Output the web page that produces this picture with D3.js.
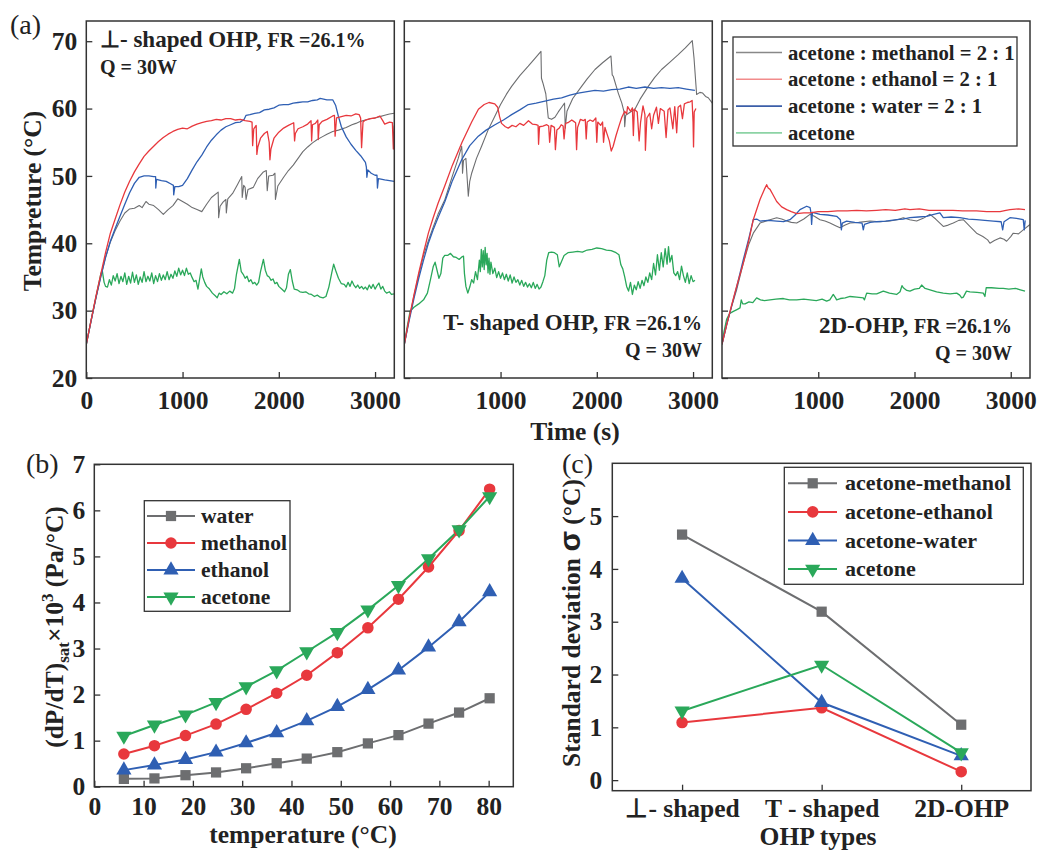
<!DOCTYPE html>
<html><head><meta charset="utf-8">
<script src="https://cdn.jsdelivr.net/npm/d3@7"></script>
<style>
body{margin:0;background:#fff;}
svg{font-family:"Liberation Serif","Times New Roman",serif;}
</style></head>
<body><svg id="c" width="1037" height="850"></svg>
<script>
// ---------- Panel (a) data: [time (s), temperature (°C)] ----------
const perpMethanol=[[0,25],[50,28.5],[100,31.9],[150,35],[200,37.9],[250,40.2],[300,41.9],[350,43.3],[400,44.5],[450,45.1],[500,45.2],[550,45.6],[580,45.3],[620,46.2],[650,45.8],[700,45.6],[750,45],[800,44.3],[850,45],[900,45.6],[950,46.6],[1000,46.2],[1050,45.8],[1100,45.3],[1150,45],[1200,44.7],[1250,45.8],[1300,46.8],[1370,47.6],[1375,43.8],[1390,45.5],[1420,46.1],[1450,46.5],[1455,44.5],[1470,46.6],[1520,47.4],[1570,48.7],[1615,49.9],[1620,46.8],[1635,48.6],[1650,48.3],[1660,46.5],[1680,48],[1735,48.3],[1780,49.6],[1840,50.6],[1870,50.8],[1880,47.8],[1895,50],[1940,50.1],[1960,50.4],[1965,46.5],[1990,48.5],[2050,49.8],[2100,50.8],[2150,51.6],[2200,52.6],[2250,53.6],[2300,54.3],[2350,54.9],[2400,55.4],[2450,55.8],[2500,56.2],[2560,56.6],[2620,56.8],[2700,57.2],[2760,57.6],[2800,57.8],[2850,58.1],[2900,58.3],[2950,58.5],[3000,58.6],[3050,58.8],[3100,59],[3150,59.2],[3200,59.3]];
const perpEthanol=[[0,25],[50,28.6],[100,32.1],[150,35.4],[200,38.6],[250,41.5],[300,43.6],[350,45.7],[400,47.6],[450,49.2],[500,50.6],[550,51.8],[600,52.9],[650,53.7],[700,54.4],[750,55.1],[800,55.7],[850,56.2],[900,56.6],[950,56.9],[1000,57.1],[1050,57],[1100,57.4],[1150,57.7],[1200,57.9],[1250,58.1],[1300,58.2],[1350,58.4],[1400,58.3],[1450,58.5],[1500,58.5],[1550,58.3],[1600,58.4],[1650,58.2],[1700,58.1],[1722,58],[1728,54.5],[1740,57],[1765,57.5],[1772,53.2],[1782,54.3],[1810,55.6],[1850,56.3],[1880,56.6],[1900,55],[1908,52.4],[1918,54],[1950,55.6],[2000,56.5],[2050,57.1],[2100,57.5],[2155,57.9],[2164,55.2],[2172,56.3],[2200,57],[2250,57.3],[2300,57.7],[2335,58.2],[2341,55.2],[2350,57.6],[2380,57.8],[2405,58.3],[2410,55.4],[2420,57.6],[2450,58.1],[2500,58.4],[2560,58.9],[2578,59],[2585,55.9],[2600,58.6],[2650,58.8],[2700,59],[2750,58.9],[2800,59.2],[2835,59.1],[2850,58.6],[2860,54.2],[2875,58],[2900,58.3],[2950,58.5],[3000,58.6],[3050,58.9],[3080,58.2],[3100,57.7],[3150,58],[3180,57.9],[3190,54],[3200,57.5]];
const perpWater=[[0,25],[50,28.5],[100,31.9],[150,35],[200,37.9],[250,40.3],[300,42.2],[350,44],[400,45.8],[450,47.5],[500,48.9],[550,49.8],[600,50],[650,50],[700,49.9],[720,49.9],[722,48.2],[730,49.5],[780,49.3],[830,49.2],[880,48.8],[905,48.6],[908,47.2],[920,48.4],[960,48.4],[1000,48.6],[1050,49.6],[1100,50.9],[1150,52.1],[1200,53.1],[1250,54.3],[1300,55.3],[1350,56.1],[1400,56.8],[1450,57.3],[1500,57.6],[1550,57.9],[1600,58],[1640,58.4],[1660,59],[1700,59.1],[1750,59.3],[1800,59.4],[1850,59.8],[1900,59.9],[1950,60.1],[2000,60.5],[2050,60.6],[2100,60.6],[2150,60.8],[2200,60.9],[2250,61],[2300,61],[2350,61.2],[2400,61.3],[2430,61.5],[2500,61.3],[2560,61.3],[2590,60.5],[2620,58.8],[2650,57.3],[2700,55.8],[2750,54.7],[2800,53.8],[2850,53],[2900,52],[2910,51.3],[2915,49.8],[2925,50.9],[2960,50.4],[3000,50.1],[3020,50.1],[3025,48.2],[3035,49.6],[3100,49.4],[3150,49.3],[3200,49.2]];
const perpAcetone=[[0,25],[50,28.6],[100,32],[150,35.4],[165,36],[185,34.2],[200,33.6],[220,33.5],[240,34.6],[260,33.8],[280,35.2],[300,34.4],[320,35.5],[340,34],[360,35.1],[380,34.3],[400,35.6],[420,33.9],[440,35.1],[460,34.1],[480,35.7],[500,34.2],[520,35.3],[540,33.9],[560,35],[580,34.2],[600,35.8],[620,34.3],[640,35.1],[660,34.4],[680,35.6],[700,34],[720,35.2],[740,34.3],[760,35.5],[780,34.5],[800,35.3],[820,34.6],[840,35.8],[860,34.6],[880,35.4],[900,34.8],[920,35.9],[940,35.1],[960,36.3],[980,35.3],[1000,36],[1020,35.2],[1040,36.3],[1060,35.4],[1080,35.6],[1100,34.9],[1120,34.3],[1140,34.5],[1160,33.2],[1175,34.5],[1195,36.2],[1210,35],[1230,34.2],[1250,33.6],[1280,33.2],[1310,32.6],[1340,32.2],[1360,31.9],[1380,32.6],[1400,32.4],[1430,32.8],[1460,32.5],[1490,32.9],[1520,32.6],[1540,33.3],[1560,35.4],[1590,37.6],[1610,35.8],[1630,35.4],[1650,34.8],[1670,35.1],[1690,34.3],[1710,34.6],[1730,34],[1750,34.2],[1770,33.8],[1790,34.2],[1810,35.8],[1840,37.6],[1860,36],[1880,35.2],[1900,35],[1920,34.5],[1940,34.7],[1960,34],[1980,34.2],[2000,33.6],[2030,33.2],[2060,32.8],[2080,33.4],[2100,35.4],[2120,36.1],[2140,34.4],[2160,33.2],[2190,33.1],[2220,32.8],[2250,32.7],[2280,32.8],[2310,32.5],[2340,32.4],[2370,32.1],[2400,32.3],[2430,32],[2460,31.9],[2490,32.1],[2520,33.5],[2550,35.6],[2570,36.9],[2590,36],[2620,34.8],[2650,34],[2680,33.9],[2700,33.5],[2720,34.2],[2740,33.6],[2760,34.4],[2780,33.8],[2800,33.4],[2820,33.8],[2840,33.3],[2860,33.6],[2880,33.2],[2900,33.5],[2920,33.1],[2940,33.8],[2960,33.3],[2980,33.9],[3000,33.2],[3020,33.7],[3040,34.1],[3060,33.2],[3080,33.6],[3100,32.9],[3120,32.6],[3150,32.8],[3170,32.4],[3200,32.5]];

const tMethanol=[[0,25],[50,28.7],[100,32.2],[150,35.3],[200,38.2],[250,40.4],[300,42.4],[350,44.3],[422,46.5],[500,50],[560,52.6],[596,54.4],[600,53.5],[605,50.4],[615,52.3],[640,52.6],[665,47],[680,49.2],[700,50.4],[750,52.6],[803,54.4],[870,56.8],[942,58.9],[1000,60.6],[1060,62.1],[1115,63.3],[1200,64.9],[1288,66.3],[1360,67.5],[1420,68.5],[1425,64.5],[1440,63.8],[1470,62.2],[1496,58.6],[1530,58.4],[1565,58.7],[1600,59.5],[1640,60.3],[1665,60.8],[1672,57.1],[1690,59.6],[1750,61.5],[1842,63.3],[1900,64.4],[1981,65.8],[2060,66.8],[2147,67.8],[2160,65],[2171,64.8],[2223,62.3],[2260,60.8],[2285,59.4],[2290,57.3],[2300,59],[2350,59.5],[2396,59.9],[2450,61.4],[2535,63.3],[2600,64.6],[2673,65.8],[2760,66.9],[2846,68],[2920,69],[2992,70.1],[3010,67.5],[3030,63.5],[3037,62.1],[3071,62.4],[3100,62.3],[3130,61.8],[3158,61.6],[3200,60.8]];
const tEthanol=[[0,25],[50,28.8],[100,32.3],[150,35.6],[200,38.6],[250,41.5],[300,43.8],[350,45.9],[420,48.5],[500,51.6],[600,55],[700,58],[770,59.9],[830,60.6],[880,60.9],[940,60.7],[970,60.2],[990,58.8],[1010,57.8],[1050,57.3],[1080,57.1],[1120,57.5],[1160,57.3],[1200,57.8],[1240,57.5],[1290,58.2],[1330,57.7],[1370,57.6],[1390,57.5],[1395,54.7],[1405,57.3],[1440,57.4],[1480,57.6],[1500,57.4],[1510,55],[1525,57.5],[1560,57.2],[1570,53.9],[1585,56.8],[1610,57.1],[1630,57.6],[1650,57.4],[1660,55.5],[1675,57.8],[1700,57.9],[1740,58.3],[1760,58.1],[1780,57.9],[1790,53.9],[1800,57.2],[1830,58.4],[1860,58.2],[1880,58.4],[1890,55.5],[1900,58],[1930,58.3],[1960,58.1],[1990,58.6],[2000,55],[2010,58],[2040,57.5],[2060,58],[2070,55],[2085,57.2],[2100,56.5],[2130,55.2],[2150,53.7],[2170,54.4],[2200,56],[2230,57.4],[2260,58.7],[2290,59.6],[2310,59.2],[2320,60.3],[2350,59.6],[2370,60.1],[2380,56],[2390,59.9],[2420,59.5],[2440,55.2],[2455,58],[2480,60.4],[2500,59.1],[2505,53.8],[2520,58.6],[2550,59.3],[2570,57],[2590,59],[2620,60.2],[2640,57.8],[2660,60],[2700,59.6],[2720,55.7],[2740,59.8],[2760,60.1],[2790,57],[2810,60.3],[2830,56.4],[2845,60.2],[2870,60.5],[2890,58.5],[2910,60.7],[2940,60.9],[2970,61],[2990,61.2],[3000,58],[3005,54.3],[3012,59.5],[3030,60]];
const tWater=[[0,25],[50,28.5],[100,31.8],[150,34.8],[200,37.5],[250,40],[300,42],[350,43.8],[422,46.2],[500,49.3],[596,52.4],[680,54.5],[769,55.9],[850,56.8],[942,57.6],[1030,58.3],[1115,59.1],[1200,59.8],[1288,60.6],[1370,60.8],[1461,61.1],[1550,61.4],[1634,61.6],[1720,62],[1807,62.3],[1900,62.5],[1981,62.7],[2070,62.6],[2154,62.8],[2240,62.9],[2327,63.2],[2410,63],[2500,63.2],[2590,63],[2673,63.1],[2760,63],[2846,63.1],[2930,62.9],[3019,62.7]];
const tAcetone=[[0,25],[30,27.6],[60,29.9],[100,30.5],[150,31],[200,31.6],[240,32.6],[270,34.5],[300,36.5],[320,37.2],[340,36],[360,34.8],[380,35.5],[400,37.8],[420,38.2],[450,38.2],[480,38.5],[510,38],[540,37.9],[570,37.6],[600,38],[615,38.1],[625,35.5],[640,33.6],[660,32.6],[680,33.5],[700,34.6],[720,34.1],[740,35.8],[760,34.6],[780,37.5],[790,35.8],[800,39.1],[810,36.5],[820,38.9],[830,36.1],[840,39.4],[850,36.8],[860,38.5],[870,35.6],[880,37.8],[890,35.4],[900,37.2],[920,35.5],[940,36.3],[960,34.9],[980,35.8],[1000,34.8],[1020,35.6],[1040,34.6],[1060,35.4],[1080,34.4],[1100,35.3],[1120,34.1],[1140,35],[1160,34.2],[1180,34.6],[1200,33.8],[1220,34.5],[1240,33.6],[1260,34.2],[1280,33.5],[1300,34],[1320,33.4],[1340,34.2],[1360,33.3],[1380,33.9],[1400,33.2],[1420,33.5],[1440,34.3],[1460,35.2],[1480,37.5],[1500,38.6],[1530,38.7],[1560,38.6],[1590,38.3],[1610,36.5],[1630,37.2],[1660,38.2],[1700,38.6],[1750,38.7],[1800,38.8],[1850,38.7],[1900,39],[1950,39.1],[2000,39.3],[2050,39.2],[2100,39],[2150,38.9],[2200,38.6],[2230,38.3],[2250,36.8],[2270,36.2],[2290,35],[2310,33.6],[2330,32.9],[2350,34.2],[2370,32.4],[2390,33.8],[2410,33.1],[2430,34.3],[2450,33.3],[2470,34.5],[2490,33.7],[2510,35],[2530,34.2],[2550,35.6],[2570,34.6],[2590,37],[2610,35.3],[2630,38.3],[2650,36],[2670,38.6],[2690,36.5],[2710,39.2],[2730,36.9],[2745,39.5],[2760,37.2],[2780,38.2],[2800,35.6],[2820,35.2],[2840,35.8],[2860,34.6],[2880,36.6],[2900,35.2],[2920,34.2],[2940,35.6],[2960,34],[2980,35.2],[3000,34.3],[3020,34.5]];

const dMethanol=[[0,25],[50,28],[100,30.6],[152,33.1],[222,37.1],[280,39.9],[325,41.5],[395,43],[499,43.5],[568,43.8],[620,43.6],[672,43.3],[720,43.1],[776,43],[850,43.6],[914,44.3],[960,44],[1018,43.5],[1070,43.3],[1122,43],[1180,42.6],[1226,42.3],[1280,42.7],[1330,43],[1420,43.1],[1537,43.3],[1640,43.2],[1745,43.3],[1820,43.5],[1884,43.8],[1950,43.5],[2022,43.3],[2090,43.7],[2161,44.3],[2220,43.6],[2299,42.5],[2350,42.7],[2403,43],[2460,43.4],[2507,43.5],[2570,42.6],[2645,41.5],[2710,41],[2760,40.5],[2784,40],[2830,40.4],[2888,40.8],[2930,40.6],[2957,40.3],[3000,41],[3026,41.5],[3080,41.4],[3130,42],[3200,42.8]];
const dEthanol=[[0,25],[50,28],[100,30.8],[152,33.6],[222,37.1],[280,40.5],[325,43.5],[395,46.5],[440,48],[464,48.7],[480,48.2],[499,48],[530,47.2],[568,46.2],[620,45.4],[672,45],[720,44.7],[776,44.4],[850,44.5],[914,44.5],[1000,44.7],[1100,44.7],[1200,44.8],[1300,44.8],[1400,44.9],[1500,44.8],[1607,44.9],[1700,45],[1800,44.9],[1900,45.1],[1953,45],[2050,45.1],[2150,44.9],[2299,44.9],[2400,44.9],[2500,44.8],[2645,44.8],[2750,44.7],[2888,44.7],[2950,44.9],[2992,45],[3080,45.1],[3148,45]];
const dWater=[[0,25],[50,28],[100,30.7],[152,33.5],[222,37.6],[280,40.8],[325,43.5],[360,43.6],[395,43.3],[480,43.4],[568,43.3],[640,43.2],[706,43.5],[760,44.2],[810,45],[880,45.5],[915,45.3],[925,44.5],[931,42.8],[940,44.6],[1018,44.3],[1100,44.2],[1191,44],[1230,43.5],[1240,42],[1250,43],[1295,43.3],[1380,43.1],[1455,43],[1468,42],[1480,42.8],[1540,43.1],[1607,43.2],[1700,43.3],[1814,43.5],[1880,43.6],[1953,43.8],[2040,43.9],[2126,44],[2200,44.3],[2264,44.5],[2299,43.8],[2380,43.9],[2472,43.8],[2560,43.6],[2645,43.5],[2730,43.4],[2819,43.3],[2900,43.2],[2916,42],[2930,43.2],[2992,43.8],[3060,43.7],[3130,43.5],[3140,42],[3150,43.4]];
const dAcetone=[[0,25],[20,26.8],[48,28.7],[80,29.6],[118,29.9],[160,30.2],[187,30.4],[200,31.6],[215,31],[240,31],[280,31.3],[320,31.2],[360,31.9],[400,31.6],[440,31.5],[499,31.6],[560,31.7],[637,31.8],[700,31.6],[776,31.6],[850,31.7],[914,31.6],[980,31.5],[1040,31.7],[1087,31.4],[1120,31.6],[1156,32.4],[1180,31.9],[1191,31.6],[1230,31.8],[1280,31.9],[1330,32.1],[1400,32],[1468,31.9],[1480,31.6],[1503,32.6],[1560,32.5],[1607,32.5],[1676,32.9],[1740,32.6],[1814,32.4],[1850,32.8],[1870,33.7],[1884,33.4],[1920,33],[1953,32.9],[2000,33.2],[2050,33.3],[2074,33.8],[2110,33.3],[2161,33.1],[2230,32.8],[2299,32.6],[2370,32.5],[2438,32.6],[2470,32.3],[2490,31.9],[2507,32],[2540,32.9],[2576,32.8],[2650,32.7],[2715,32.6],[2732,32.1],[2745,33.4],[2800,33.4],[2880,33.3],[2922,33.3],[2980,33.2],[3050,33.3],[3100,33.1],[3148,32.9]];

const aLegend=["acetone : methanol = 2 : 1","acetone : ethanol = 2 : 1","acetone : water = 2 : 1","acetone"];
const aTimeTicks=[0,1000,2000,3000];
const aTempTicks=[20,30,40,50,60,70];

// ---------- Panel (b) data ----------
const bTemps=[6,12.2,18.5,24.7,30.8,37,43.1,49.3,55.5,61.7,67.8,74,80.2];
const bWater=[0.17,0.18,0.25,0.31,0.4,0.51,0.61,0.75,0.94,1.12,1.37,1.61,1.92];
const bMethanol=[0.71,0.89,1.11,1.36,1.68,2.03,2.42,2.91,3.45,4.07,4.77,5.56,6.46];
const bEthanol=[0.36,0.47,0.59,0.75,0.95,1.17,1.43,1.74,2.11,2.53,3.03,3.58,4.23];
const bAcetone=[1.10,1.34,1.56,1.83,2.17,2.52,2.93,3.35,3.84,4.37,4.95,5.58,6.30];
const bNames=["water","methanol","ethanol","acetone"];
const bXTicks=[0,10,20,30,40,50,60,70,80];
const bYTicks=[0,1,2,3,4,5,6,7];

// ---------- Panel (c) data ----------
const cTypes=["⊥- shaped","T - shaped","2D-OHP"];
const cMethanol=[4.65,3.19,1.05];
const cEthanol=[1.09,1.37,0.16];
const cWater=[3.82,1.47,0.46];
const cAcetone=[1.31,2.18,0.52];
const cNames=["acetone-methanol","acetone-ethanol","acetone-water","acetone"];
const cYTicks=[0,1,2,3,4,5];

// ---------- drawing ----------
const svg=d3.select("#c");
const GRAY="#6d6e70",RED="#e8383d",BLUE="#2f5fb3",GREEN="#2aa85a";
const FRAME="#333";
const FS=25.5;

function inwardAxes(g,x,y,xt,yt,opts){
  const ax=d3.axisBottom(x).tickValues(xt).tickSize(-6).tickPadding(opts.xpad).tickFormat(opts.xfmt);
  const gx=g.append("g").attr("transform",`translate(0,${y.range()[0]})`).call(ax);
  const ay=d3.axisLeft(y).tickValues(yt).tickSize(-6).tickPadding(opts.ypad).tickFormat(opts.yfmt);
  const gy=g.append("g").attr("transform",`translate(${x.range()[0]},0)`).call(ay);
  [gx,gy].forEach(s=>{
    s.select(".domain").remove();
    s.selectAll("line").attr("stroke",FRAME).attr("stroke-width",1.3);
    s.selectAll("text").attr("font-family","Liberation Serif, serif").attr("font-weight","bold").attr("font-size",FS).attr("fill","#222");
  });
  return {gx,gy};
}

// Panel (a)
const aPanels=[
  {x0:86.3, series:[perpMethanol,perpEthanol,perpWater,perpAcetone], showY:true, xticks:aTimeTicks},
  {x0:404.3, series:[tMethanol,tEthanol,tWater,tAcetone], showY:false, xticks:[1000,2000,3000]},
  {x0:722, series:[dMethanol,dEthanol,dWater,dAcetone], showY:false, xticks:[1000,2000,3000]}
];
const aColors=[GRAY,RED,BLUE,GREEN];
const aTop=21,aBot=378,aW=308;
aPanels.forEach((p,i)=>{
  const x=d3.scaleLinear().domain([0,3200]).range([p.x0,p.x0+aW]);
  const y=d3.scaleLinear().domain([20,73]).range([aBot,aTop]);
  const g=svg.append("g");
  const cid="clipA"+i;
  svg.append("clipPath").attr("id",cid).append("rect").attr("x",p.x0).attr("y",aTop).attr("width",aW).attr("height",aBot-aTop);
  const line=d3.line().x(d=>x(d[0])).y(d=>y(d[1]));
  [3,0,2,1].forEach(k=>{
    g.append("path").datum(p.series[k]).attr("d",line).attr("fill","none")
     .attr("stroke",aColors[k]).attr("stroke-width",k===0?1.1:1.3).attr("stroke-linejoin","round")
     .attr("clip-path",`url(#${cid})`);
  });
  inwardAxes(g,x,y,p.xticks,aTempTicks,{xpad:13,ypad:9,xfmt:d3.format("d"),yfmt:p.showY?d3.format("d"):()=>""});
  g.append("rect").attr("x",p.x0).attr("y",aTop).attr("width",aW).attr("height",aBot-aTop)
   .attr("fill","none").attr("stroke",FRAME).attr("stroke-width",1.5);
});

function annot(x,y,big,small,anchor){
  const t=svg.append("text").attr("x",x).attr("y",y).attr("text-anchor",anchor).attr("font-weight","bold").attr("fill","#222");
  t.append("tspan").attr("font-size",23).text(big);
  t.append("tspan").attr("font-size",20).text(small);
}
annot(100,47,"⊥- shaped OHP, ","FR =26.1%","start");
svg.append("text").attr("x",100).attr("y",74).attr("font-size",20).attr("font-weight","bold").attr("fill","#222").text("Q = 30W");
annot(702,330,"T- shaped OHP, ","FR =26.1%","end");
svg.append("text").attr("x",702).attr("y",357).attr("text-anchor","end").attr("font-size",20).attr("font-weight","bold").attr("fill","#222").text("Q = 30W");
annot(1012,333,"2D-OHP, ","FR =26.1%","end");
svg.append("text").attr("x",1012).attr("y",360).attr("text-anchor","end").attr("font-size",20).attr("font-weight","bold").attr("fill","#222").text("Q = 30W");

// legend (a)
const aLegColors=["#888","#f28b8b","#3b5ea8","#8cd3a5"];
const lgA=svg.append("g");
lgA.append("rect").attr("x",733).attr("y",37).attr("width",284).attr("height",109).attr("fill","#fff").attr("stroke",FRAME).attr("stroke-width",1.3);
aLegend.forEach((n,i)=>{
  const yy=52.5+i*26.8;
  lgA.append("line").attr("x1",736).attr("x2",782).attr("y1",yy).attr("y2",yy).attr("stroke",aLegColors[i]).attr("stroke-width",1.6);
  lgA.append("text").attr("x",788).attr("y",yy+7).attr("font-size",20.7).attr("font-weight","bold").attr("fill","#222").text(n);
});

svg.append("text").attr("x",10).attr("y",34).attr("font-size",28).attr("fill","#222").text("(a)");
svg.append("text").attr("transform","translate(41,201) rotate(-90)").attr("text-anchor","middle").attr("font-size",FS).attr("font-weight","bold").attr("fill","#222").text("Tempreture (°C)");
svg.append("text").attr("x",575).attr("y",440).attr("text-anchor","middle").attr("font-size",FS).attr("font-weight","bold").attr("fill","#222").text("Time (s)");

// markers
function marker(sel,kind,color){
  const types={square:d3.symbolSquare,circle:d3.symbolCircle,up:d3.symbolTriangle,down:d3.symbolTriangle};
  const sizes={square:105,circle:105,up:100,down:100};
  sel.append("path").attr("d",d3.symbol(types[kind],sizes[kind])())
    .attr("transform",kind==="down"?"rotate(180)":null).attr("fill",color);
}

// Panel (b)
{
  const x=d3.scaleLinear().domain([0,85]).range([94.3,513.3]);
  const y=d3.scaleLinear().domain([0,7]).range([786.7,464.3]);
  const g=svg.append("g");
  const series=[bWater,bMethanol,bEthanol,bAcetone];
  const cols=[GRAY,RED,BLUE,GREEN];
  const kinds=["square","circle","up","down"];
  const line=d3.line().x((d,i)=>x(bTemps[i])).y(d=>y(d));
  series.forEach((s,k)=>{
    g.append("path").datum(s).attr("d",line).attr("fill","none").attr("stroke",cols[k]).attr("stroke-width",2);
  });
  series.forEach((s,k)=>{
    s.forEach((v,i)=>{
      const m=g.append("g").attr("transform",`translate(${x(bTemps[i])},${y(v)})`);
      marker(m,kinds[k],cols[k]);
    });
  });
  inwardAxes(g,x,y,bXTicks,bYTicks,{xpad:10,ypad:9,xfmt:d3.format("d"),yfmt:d3.format("d")});
  g.append("rect").attr("x",94.3).attr("y",464.3).attr("width",419).attr("height",322.4).attr("fill","none").attr("stroke",FRAME).attr("stroke-width",1.5);
  const lg=svg.append("g");
  lg.append("rect").attr("x",144.3).attr("y",500.7).attr("width",145.7).attr("height",110.6).attr("fill","#fff").attr("stroke",FRAME).attr("stroke-width",1.3);
  bNames.forEach((n,i)=>{
    const yy=516+i*27;
    lg.append("line").attr("x1",147).attr("x2",195).attr("y1",yy).attr("y2",yy).attr("stroke",cols[i]).attr("stroke-width",2);
    const m=lg.append("g").attr("transform",`translate(171,${yy})`);
    marker(m,kinds[i],cols[i]);
    lg.append("text").attr("x",201).attr("y",yy+7).attr("font-size",21.5).attr("font-weight","bold").attr("fill","#222").text(n);
  });
  svg.append("text").attr("x",26).attr("y",473).attr("font-size",28).attr("fill","#222").text("(b)");
  const yl=svg.append("text").attr("transform","translate(63,627) rotate(-90)").attr("text-anchor","middle").attr("font-size",FS).attr("font-weight","bold").attr("fill","#222");
  yl.append("tspan").text("(dP/dT)");
  yl.append("tspan").attr("font-size",17).attr("dy",6).text("sat");
  yl.append("tspan").attr("dy",-6).text("×10");
  yl.append("tspan").attr("font-size",17).attr("dy",-10).text("3");
  yl.append("tspan").attr("dy",10).text(" (Pa/°C)");
  svg.append("text").attr("x",303).attr("y",843).attr("text-anchor","middle").attr("font-size",FS).attr("font-weight","bold").attr("fill","#222").text("temperature (°C)");
}

// Panel (c)
{
  const x=d3.scalePoint().domain(cTypes).range([612.3,1031]).padding(0.5);
  const y=d3.scaleLinear().domain([-0.2,6]).range([790.7,463.3]);
  const g=svg.append("g");
  const series=[cMethanol,cEthanol,cWater,cAcetone];
  const cols=[GRAY,RED,BLUE,GREEN];
  const kinds=["square","circle","up","down"];
  const line=d3.line().x((d,i)=>x(cTypes[i])).y(d=>y(d));
  series.forEach((s,k)=>{
    g.append("path").datum(s).attr("d",line).attr("fill","none").attr("stroke",cols[k]).attr("stroke-width",2);
  });
  series.forEach((s,k)=>{
    s.forEach((v,i)=>{
      const m=g.append("g").attr("transform",`translate(${x(cTypes[i])},${y(v)})`);
      marker(m,kinds[k],cols[k]);
    });
  });
  inwardAxes(g,x,y,cTypes,cYTicks,{xpad:8,ypad:10,xfmt:d=>d,yfmt:d3.format("d")});
  g.append("rect").attr("x",612.3).attr("y",463.3).attr("width",418.7).attr("height",327.4).attr("fill","none").attr("stroke",FRAME).attr("stroke-width",1.5);
  const lg=svg.append("g");
  lg.append("rect").attr("x",784.3).attr("y",467.3).attr("width",239).attr("height",117).attr("fill","#fff").attr("stroke",FRAME).attr("stroke-width",1.3);
  cNames.forEach((n,i)=>{
    const yy=483.3+i*28.6;
    lg.append("line").attr("x1",788).attr("x2",837).attr("y1",yy).attr("y2",yy).attr("stroke",cols[i]).attr("stroke-width",2);
    const m=lg.append("g").attr("transform",`translate(812.7,${yy})`);
    marker(m,kinds[i],cols[i]);
    lg.append("text").attr("x",845).attr("y",yy+7).attr("font-size",22).attr("font-weight","bold").attr("fill","#222").text(n);
  });
  svg.append("text").attr("x",562).attr("y",473).attr("font-size",28).attr("fill","#222").text("(c)");
  const yl=svg.append("text").attr("transform","translate(580,623) rotate(-90)").attr("text-anchor","middle").attr("font-size",FS).attr("font-weight","bold").attr("fill","#222");
  yl.append("tspan").text("Standard deviation ");
  yl.append("tspan").attr("font-family","Liberation Sans, Arial, sans-serif").attr("font-size",30).text("σ");
  yl.append("tspan").text(" (°C)");
  svg.append("text").attr("x",818).attr("y",845).attr("text-anchor","middle").attr("font-size",FS).attr("font-weight","bold").attr("fill","#222").text("OHP types");
}
</script></body></html>
